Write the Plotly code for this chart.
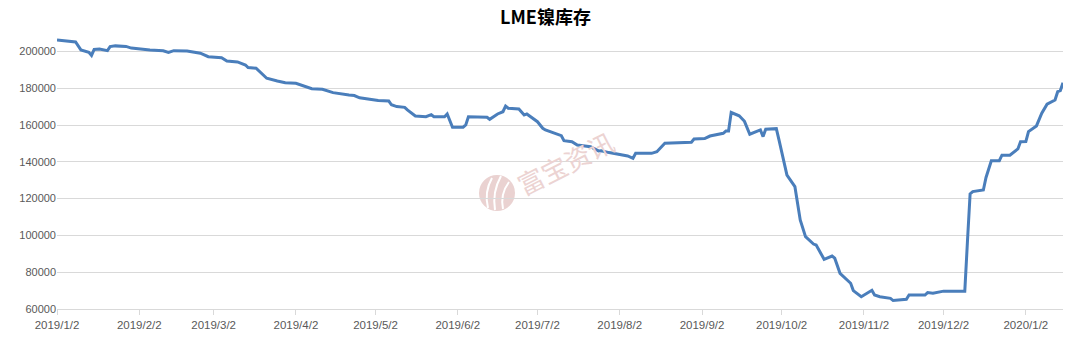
import plotly.graph_objects as go

dates = [
    "2019-01-02", "2019-01-04", "2019-01-07", "2019-01-09", "2019-01-11", "2019-01-14", "2019-01-15",
    "2019-01-16", "2019-01-18", "2019-01-21", "2019-01-22", "2019-01-24", "2019-01-28", "2019-01-30",
    "2019-02-06", "2019-02-11", "2019-02-13", "2019-02-15", "2019-02-20", "2019-02-25", "2019-02-28",
    "2019-03-05", "2019-03-07", "2019-03-11", "2019-03-14", "2019-03-15", "2019-03-18", "2019-03-19",
    "2019-03-22", "2019-03-26", "2019-03-29", "2019-04-02", "2019-04-05", "2019-04-08", "2019-04-12",
    "2019-04-16", "2019-04-22", "2019-04-24", "2019-04-26", "2019-04-30", "2019-05-03", "2019-05-07",
    "2019-05-08", "2019-05-10", "2019-05-13", "2019-05-14", "2019-05-17", "2019-05-21", "2019-05-23",
    "2019-05-24", "2019-05-28", "2019-05-29", "2019-05-30", "2019-05-31", "2019-06-04", "2019-06-05",
    "2019-06-06", "2019-06-13", "2019-06-14", "2019-06-17", "2019-06-19", "2019-06-20", "2019-06-21",
    "2019-06-25", "2019-06-27", "2019-06-28", "2019-07-02", "2019-07-04", "2019-07-05", "2019-07-09",
    "2019-07-11", "2019-07-12", "2019-07-15", "2019-07-17", "2019-07-22", "2019-07-25", "2019-07-26",
    "2019-07-29", "2019-08-01", "2019-08-05", "2019-08-07", "2019-08-08", "2019-08-14", "2019-08-16",
    "2019-08-19", "2019-08-23", "2019-08-29", "2019-08-30", "2019-09-03", "2019-09-05", "2019-09-09",
    "2019-09-10", "2019-09-11", "2019-09-12", "2019-09-13", "2019-09-16", "2019-09-18", "2019-09-20",
    "2019-09-24", "2019-09-25", "2019-09-26", "2019-09-30", "2019-10-01", "2019-10-02", "2019-10-04",
    "2019-10-07", "2019-10-09", "2019-10-11", "2019-10-14", "2019-10-15", "2019-10-18", "2019-10-21",
    "2019-10-22", "2019-10-24", "2019-10-28", "2019-10-29", "2019-11-01", "2019-11-05", "2019-11-06",
    "2019-11-08", "2019-11-12", "2019-11-13", "2019-11-18", "2019-11-19", "2019-11-25", "2019-11-26",
    "2019-11-28", "2019-12-02", "2019-12-10", "2019-12-11", "2019-12-12", "2019-12-13", "2019-12-17",
    "2019-12-18", "2019-12-20", "2019-12-23", "2019-12-24", "2019-12-27", "2019-12-30", "2019-12-31",
    "2020-01-02", "2020-01-03", "2020-01-06", "2020-01-08", "2020-01-10", "2020-01-13", "2020-01-14",
    "2020-01-15", "2020-01-16",
]

stock = [
    206200, 205900, 205300, 205100, 200800, 199500, 197800,
    201100, 201300, 200400, 202600, 203000, 202700, 201800,
    200800, 200300, 199400, 200400, 200200, 199000, 197100,
    196600, 194800, 194300, 192600, 191200, 190900, 189500,
    185400, 183900, 183000, 182700, 181200, 179700, 179400,
    177600, 176300, 176000, 174800, 174000, 173300, 173000,
    171000, 170000, 169600, 168200, 164900, 164500, 165600,
    164500, 164500, 166000, 162700, 158800, 158800, 160000,
    164500, 164200, 163100, 166000, 167200, 170300, 169100,
    168700, 165400, 166000, 161800, 158200, 157300, 155100,
    154200, 151500, 150900, 149100, 148200, 145900, 146000,
    145000, 144100, 143200, 141900, 144600, 144600, 145500,
    150100, 150400, 150600, 152400, 152600, 154000, 155100,
    155500, 156700, 156700, 166800, 165000, 162000, 155000,
    157300, 153700, 157700, 158000, 151900, 145500, 132800,
    126500, 108400, 99300, 95300, 94800, 87000, 88800,
    87600, 79400, 74000, 70000, 66700, 70200, 67600,
    66700, 65800, 64600, 65300, 67600, 67600, 68900,
    68600, 69700, 69700, 96600, 122500, 123800, 124700,
    131500, 140600, 140600, 143600, 143600, 147000, 150900,
    151000, 156400, 159500, 166400, 171300, 173600, 178100,
    178700, 183000,
]

tick_dates = [
    "2019-01-02", "2019-02-02", "2019-03-02", "2019-04-02", "2019-05-02", "2019-06-02", "2019-07-02",
    "2019-08-02", "2019-09-02", "2019-10-02", "2019-11-02", "2019-12-02", "2020-01-02",
]
tick_labels = [
    "2019/1/2", "2019/2/2", "2019/3/2", "2019/4/2", "2019/5/2", "2019/6/2", "2019/7/2",
    "2019/8/2", "2019/9/2", "2019/10/2", "2019/11/2", "2019/12/2", "2020/1/2",
]

W, H = 1091, 346
L, R, T, B = 57, 28, 33, 37

fig = go.Figure()
fig.add_trace(go.Scatter(
    x=dates, y=stock, mode="lines",
    line=dict(color="#4A7EBB", width=3),
    hoverinfo="x+y", showlegend=False,
))

def px_to_paper(px, py):
    return (px - L) / (W - L - R), (H - B - py) / (H - T - B)

# watermark logo circle
cx, cy = px_to_paper(497, 193)
rx = 18 / (W - L - R)
ry = 18 / (H - T - B)
shapes = [dict(type="circle", xref="paper", yref="paper",
               x0=cx - rx, x1=cx + rx, y0=cy - ry, y1=cy + ry,
               fillcolor="#EAD2D1", line=dict(width=0), layer="below")]
# white flame strokes inside logo
for (x0, y0, x1, y1, x2, y2) in [(488, 208, 484, 192, 492, 178), (495, 210, 492, 192, 501, 176), (503, 209, 500, 194, 509, 182)]:
    a = px_to_paper(x0, y0)
    b = px_to_paper(x1, y1)
    c = px_to_paper(x2, y2)
    shapes.append(dict(type="path", xref="paper", yref="paper",
                       path=f"M {a[0]},{a[1]} Q {b[0]},{b[1]} {c[0]},{c[1]}",
                       line=dict(color="white", width=2), layer="below"))

wx, wy = px_to_paper(565, 162)
annotations = [dict(text="富宝资讯", xref="paper", yref="paper", x=wx, y=wy,
                    showarrow=False, textangle=-27,
                    font=dict(family="Noto Sans CJK SC", size=26, color="#ECD3D2"))]

fig.update_layout(
    width=W, height=H,
    margin=dict(l=L, r=R, t=T, b=B),
    paper_bgcolor="white", plot_bgcolor="white",
    title=dict(text="<b>LME镍库存</b>", x=0.5, xanchor="center", y=1 - 18 / H, yanchor="middle",
               yref="container",
               font=dict(family="Noto Sans CJK SC", size=18, color="#000000")),
    shapes=shapes,
    annotations=annotations,
    xaxis=dict(type="date", range=["2019-01-02", "2020-01-16"],
               tickmode="array", tickvals=tick_dates, ticktext=tick_labels,
               showgrid=False, showline=True, linecolor="#D9D9D9", linewidth=1,
               ticks="outside", ticklen=5, tickcolor="#D9D9D9",
               tickfont=dict(family="Liberation Sans", size=11.5, color="#595959"),
               zeroline=False),
    yaxis=dict(range=[60000, 210000], tick0=60000, dtick=20000, tickformat="d",
               showgrid=True, gridcolor="#D9D9D9", gridwidth=1,
               showline=False, zeroline=False, ticks="",
               tickfont=dict(family="Liberation Sans", size=11, color="#595959")),
)

fig.write_html("out.html")
